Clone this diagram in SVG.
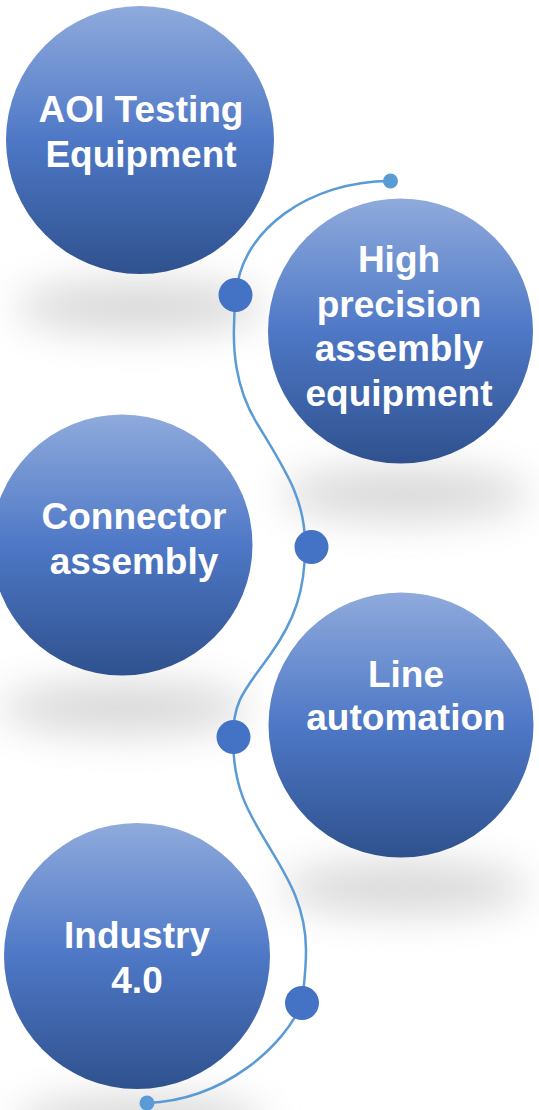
<svg xmlns="http://www.w3.org/2000/svg" width="539" height="1110" viewBox="0 0 539 1110">
<defs>
<linearGradient id="g" x1="0" y1="0" x2="0" y2="1">
<stop offset="0" stop-color="#8faadc"/>
<stop offset="0.5" stop-color="#4e78c6"/>
<stop offset="1" stop-color="#2f518e"/>
</linearGradient>
<filter id="blur" x="-50%" y="-300%" width="200%" height="700%">
<feGaussianBlur stdDeviation="20"/>
</filter>
<style>
.sh{fill:#d8d8d8;filter:url(#blur)}
.c{fill:url(#g)}
.t{font-family:"Liberation Sans",Arial,sans-serif;font-weight:bold;font-size:37px;fill:#ffffff;text-anchor:middle}
.big{fill:#4472c4}
.small{fill:#5b9bd5}
.ln{fill:none;stroke:#5b9bd5;stroke-width:2.5}
</style>
</defs>
<g id="shadows">
<ellipse class="sh" cx="140" cy="307" rx="125" ry="26"/>
<ellipse class="sh" cx="405" cy="494" rx="125" ry="26"/>
<ellipse class="sh" cx="125" cy="708" rx="125" ry="26"/>
<ellipse class="sh" cx="405" cy="888" rx="125" ry="26"/>
<ellipse class="sh" cx="140" cy="1122" rx="125" ry="26"/>
</g>
<g id="connectors">
<path class="ln" d="M390 181 C310 181 240 230 236 295 C230 350 236 390 258 425 C285 470 306 500 305 547 C305 590 295 620 270 655 C245 690 233 700 233 738 C233 790 250 815 268 845 C286 875 306 905 306 950 C306 975 303 990 302 1003 C285 1045 225 1100 147 1103"/>
<circle class="small" cx="390.5" cy="181" r="7.5"/>
<circle class="small" cx="147" cy="1103" r="7.5"/>
<circle class="big" cx="235.5" cy="295" r="17"/>
<circle class="big" cx="311.5" cy="547" r="17"/>
<circle class="big" cx="233.5" cy="737" r="17"/>
<circle class="big" cx="302" cy="1003" r="17"/>
</g>
<g id="node1">
<circle class="c" cx="140" cy="140" r="134"/>
<text class="t" x="141" y="122">AOI Testing</text>
<text class="t" x="141" y="167">Equipment</text>
</g>
<g id="node2">
<circle class="c" cx="400.5" cy="331" r="132.5"/>
<text class="t" x="399" y="272">High</text>
<text class="t" x="399" y="317">precision</text>
<text class="t" x="399" y="361">assembly</text>
<text class="t" x="399" y="406">equipment</text>
</g>
<g id="node3">
<circle class="c" cx="122" cy="545" r="130.5"/>
<text class="t" x="134" y="529">Connector</text>
<text class="t" x="134" y="574">assembly</text>
</g>
<g id="node4">
<circle class="c" cx="401" cy="725" r="132.5"/>
<text class="t" x="406" y="687">Line</text>
<text class="t" x="406" y="730">automation</text>
</g>
<g id="node5">
<circle class="c" cx="137" cy="956" r="133"/>
<text class="t" x="137" y="948">Industry</text>
<text class="t" x="137" y="993">4.0</text>
</g>
</svg>
